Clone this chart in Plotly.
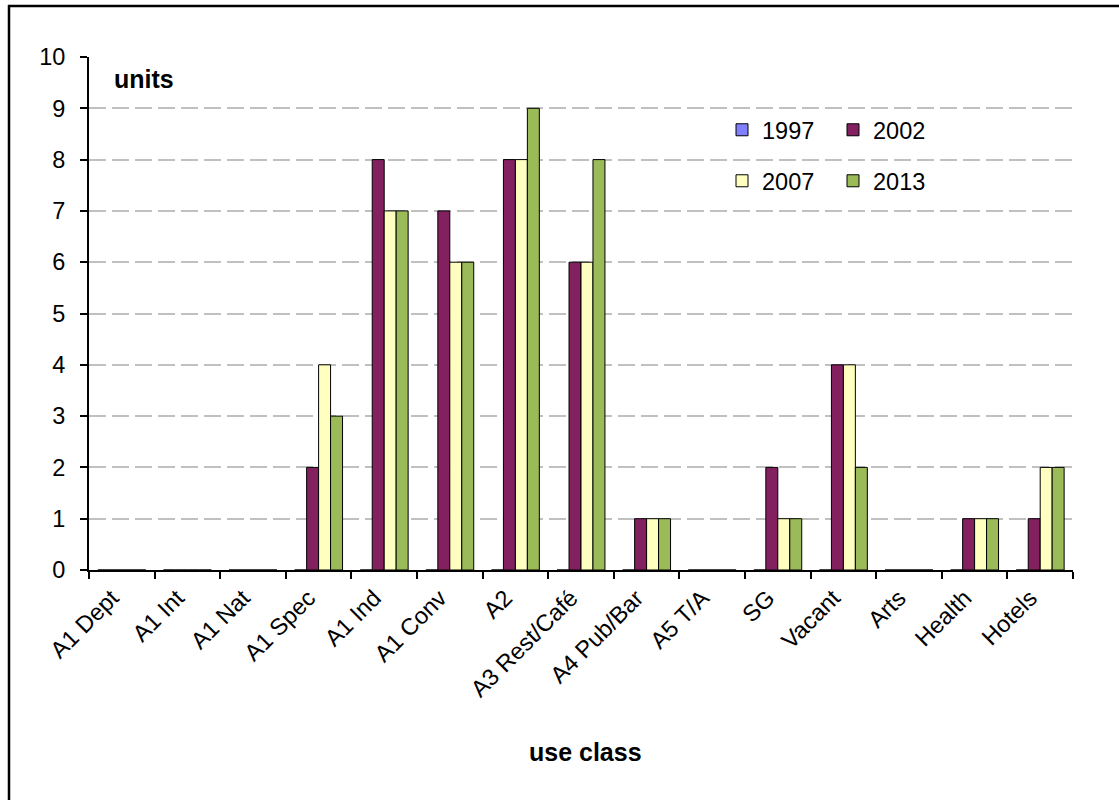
import plotly.graph_objects as go

categories = ["A1 Dept", "A1 Int", "A1 Nat", "A1 Spec", "A1 Ind", "A1 Conv", "A2",
              "A3 Rest/Café", "A4 Pub/Bar", "A5 T/A", "SG", "Vacant", "Arts", "Health", "Hotels"]
v1997 = [0, 0, 0, 0, 0, 0, 0, 0, 0, 0, 0, 0, 0, 0, 0]
v2002 = [0, 0, 0, 2, 8, 7, 8, 6, 1, 0, 2, 4, 0, 1, 1]
v2007 = [0, 0, 0, 4, 7, 6, 8, 6, 1, 0, 1, 4, 0, 1, 2]
v2013 = [0, 0, 0, 3, 7, 6, 9, 8, 1, 0, 1, 2, 0, 1, 2]

series = [("1997", v1997, "#8080FF", "legend"),
          ("2002", v2002, "#832060", "legend"),
          ("2007", v2007, "#FFFFC0", "legend2"),
          ("2013", v2013, "#9BBB59", "legend2")]

FONT = "Liberation Sans, Arial, sans-serif"
FS = 23.5
FSB = 25

fig = go.Figure()
for name, vals, col, lg in series:
    fig.add_trace(go.Bar(x=categories, y=vals, name=name, legend=lg,
                         marker=dict(color=col, line=dict(color="black", width=1))))

W, H = 1119, 800
L, R, T, B = 89, 1073, 57, 570
pw, ph = R - L, B - T

def px(x):
    return (x - L) / pw

def py(y):
    return (B - y) / ph

fig.update_layout(
    width=W, height=H,
    margin=dict(l=L, r=W - R, t=T, b=H - B, pad=0),
    paper_bgcolor="white", plot_bgcolor="white",
    font=dict(family=FONT, size=FS, color="black"),
    barmode="group", bargap=0.27, bargroupgap=0,
    showlegend=True,
    legend=dict(orientation="h", x=px(722), y=py(130), xanchor="left", yanchor="middle",
                entrywidth=66, entrywidthmode="pixels", font=dict(size=FS),
                bgcolor="rgba(0,0,0,0)", traceorder="normal"),
    legend2=dict(orientation="h", x=px(722), y=py(181), xanchor="left", yanchor="middle",
                 entrywidth=66, entrywidthmode="pixels", font=dict(size=FS),
                 bgcolor="rgba(0,0,0,0)", traceorder="normal"),
    xaxis=dict(type="category", tickson="boundaries", ticks="outside", ticklen=7,
               tickcolor="black", tickwidth=1.5, tickangle=-45, showline=True,
               linecolor="black", linewidth=2, showgrid=False, zeroline=False,
               ticklabelshift=-10, ticklabelstandoff=3,
               tickfont=dict(size=FS, family=FONT), range=[-0.5, 14.5]),
    yaxis=dict(range=[0, 10], dtick=1, ticks="outside", ticklen=7, tickcolor="black",
               tickwidth=1.5, showline=True, linecolor="black", linewidth=2,
               showgrid=True, gridcolor="#C0C0C0", gridwidth=2, griddash="17px,6px",
               zeroline=False, ticklabelstandoff=10, tickfont=dict(size=FS, family=FONT)),
    annotations=[
        dict(text="<b>units</b>", x=px(112), y=py(79), xref="paper", yref="paper",
             xanchor="left", yanchor="middle", showarrow=False, font=dict(size=FSB)),
        dict(text="<b>use class</b>", x=px(585), y=py(752), xref="paper", yref="paper",
             xanchor="center", yanchor="middle", showarrow=False, font=dict(size=FSB)),
    ],
    shapes=[
        dict(type="line", xref="paper", yref="paper", x0=px(9), x1=px(9), y0=py(805), y1=py(5),
             line=dict(color="black", width=2.5)),
        dict(type="line", xref="paper", yref="paper", x0=px(8), x1=px(1125), y0=py(6), y1=py(6),
             line=dict(color="black", width=2.5)),
    ],
)

fig.write_html("out.html")
